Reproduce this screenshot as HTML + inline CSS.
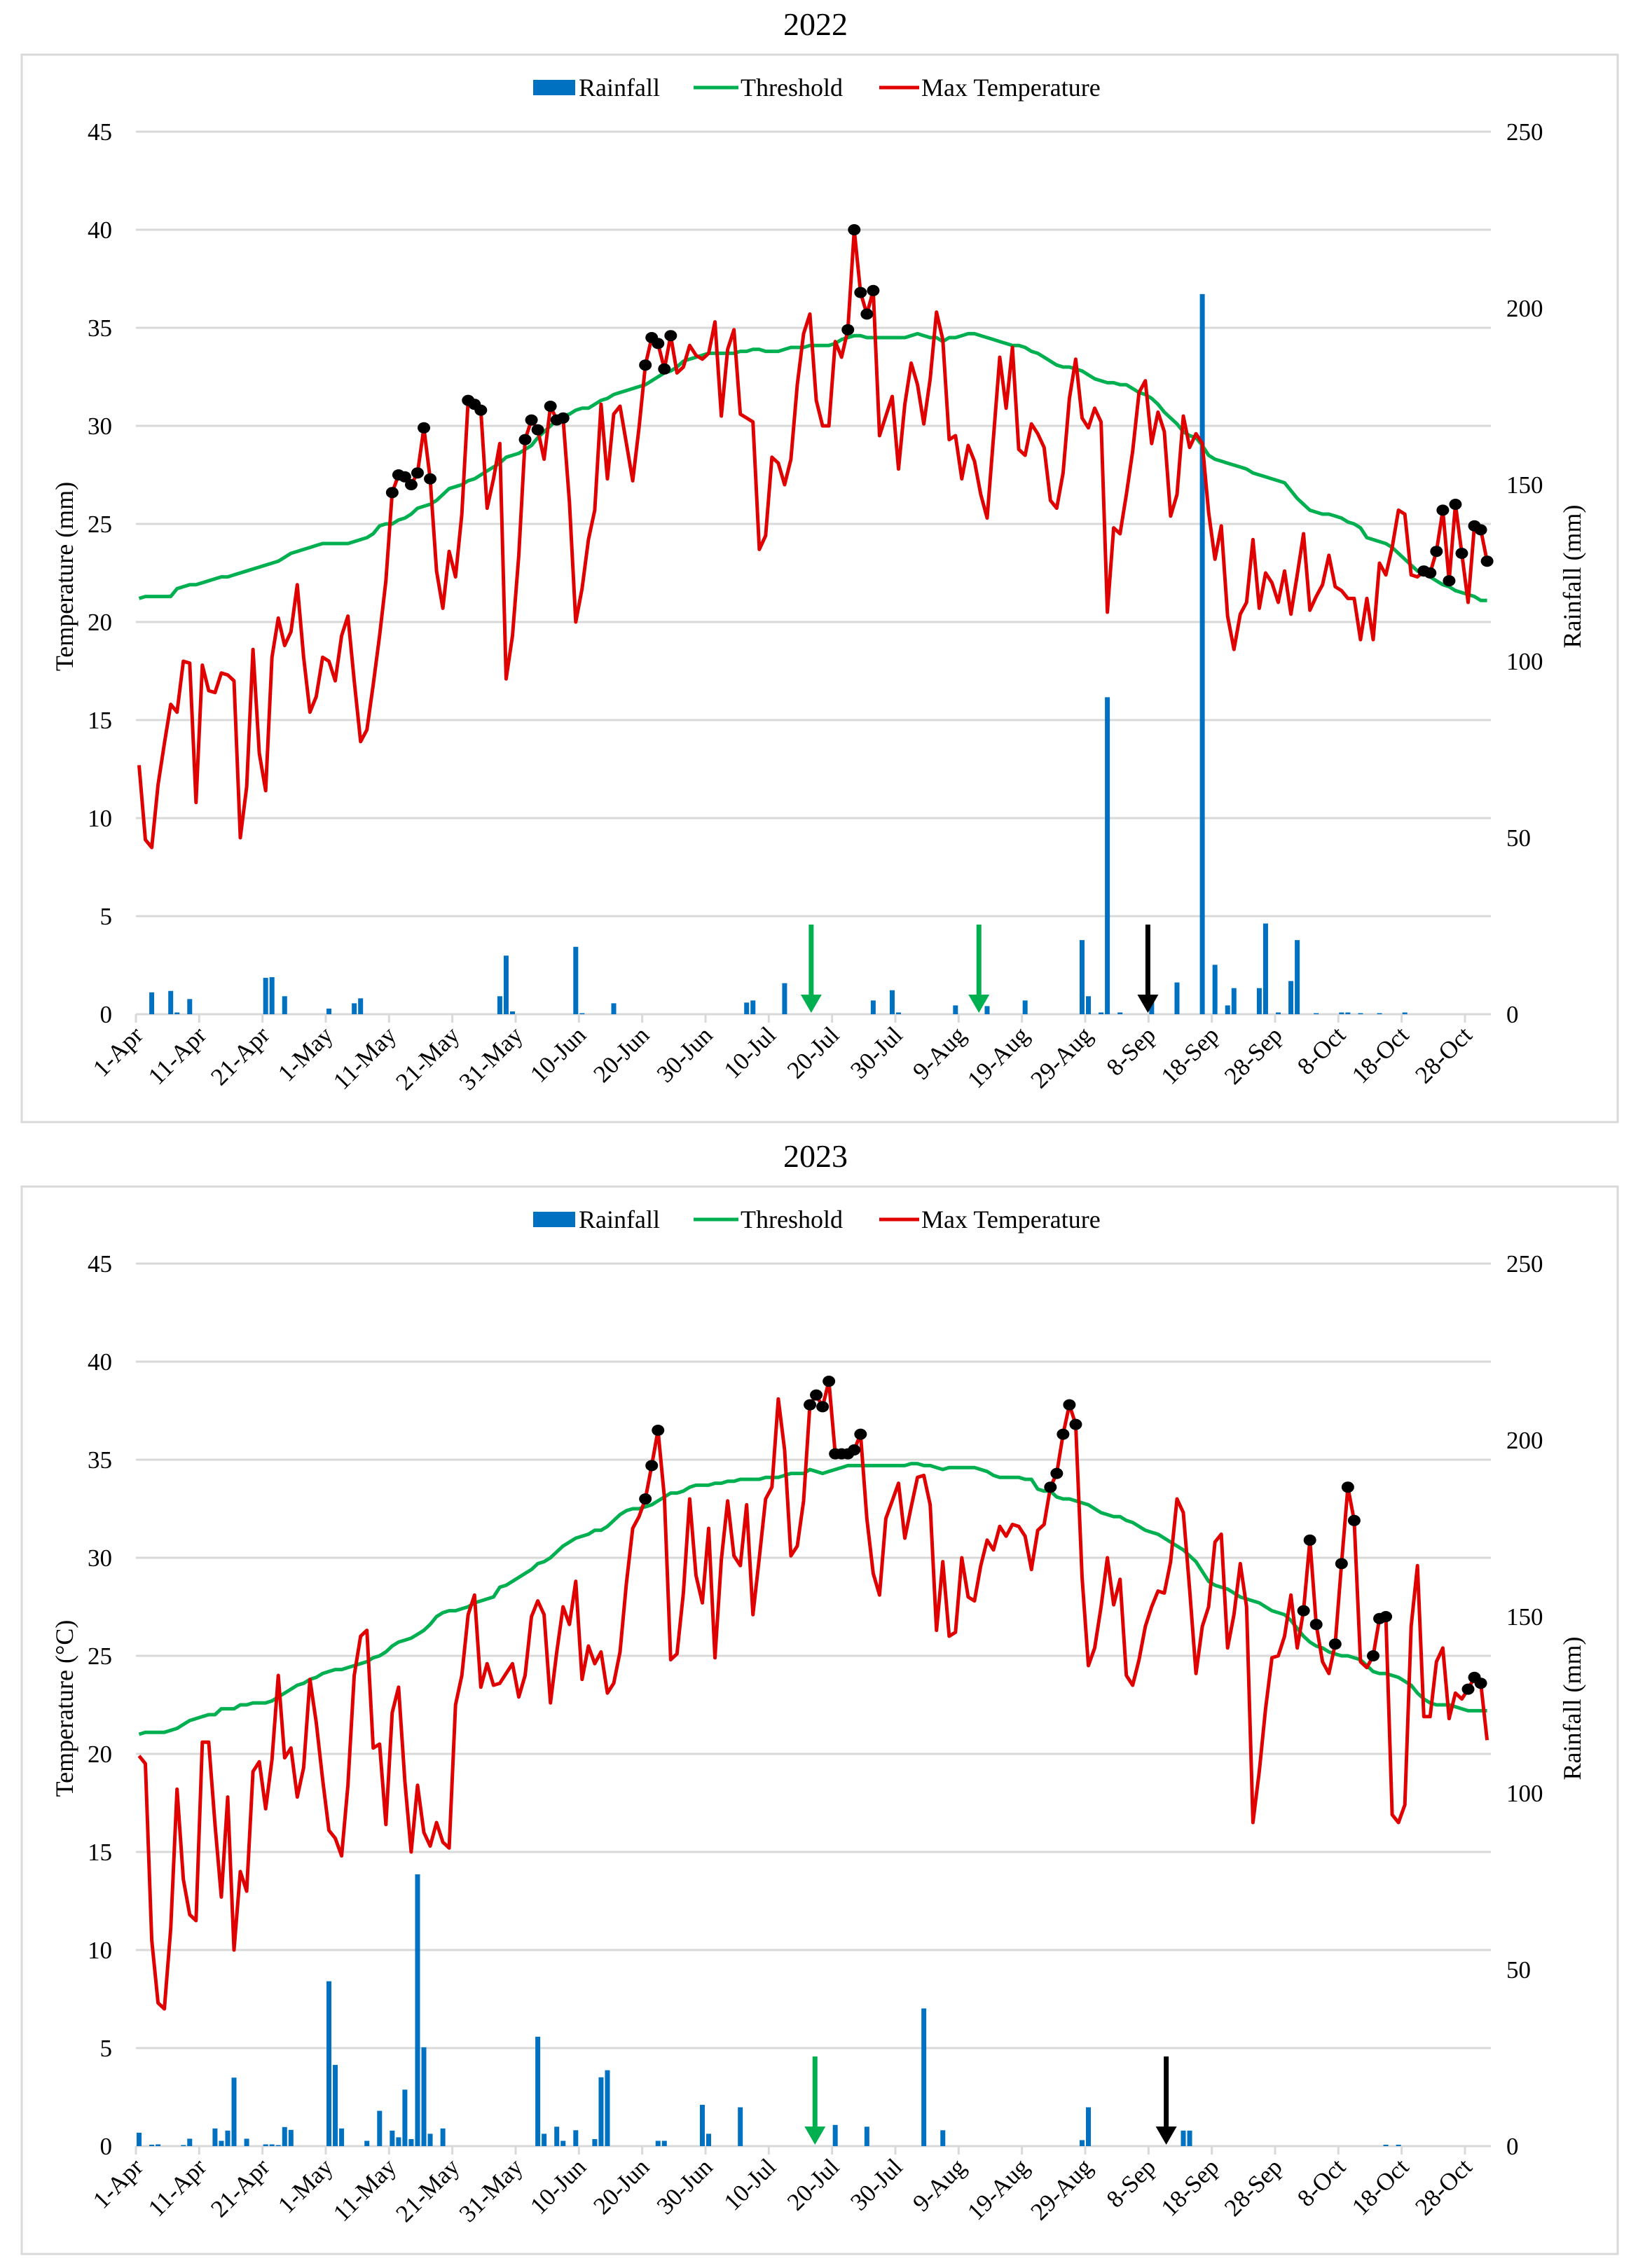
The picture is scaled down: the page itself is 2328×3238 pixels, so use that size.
<!DOCTYPE html>
<html><head><meta charset="utf-8"><title>Rainfall, threshold and max temperature 2022–2023</title>
<style>
html,body{margin:0;padding:0;background:#fff;}
svg{display:block;font-family:"Liberation Serif","Times New Roman",serif;}
</style></head>
<body>
<svg id="fig" xmlns="http://www.w3.org/2000/svg" width="2328" height="3238" viewBox="0 0 2328 3238">
<rect x="0" y="0" width="2328" height="3238" fill="#fff"/>
<!-- Chart 2022 static -->
<g id="c2022">
<rect x="31" y="78" width="2278" height="1524" fill="none" stroke="#d9d9d9" stroke-width="3"/>
<text x="1164" y="50" font-size="46" text-anchor="middle">2022</text>
<g font-size="36">
<rect x="761" y="114" width="60" height="22" fill="#0070c0"/>
<text x="826" y="137">Rainfall</text>
<line x1="990" y1="125" x2="1054" y2="125" stroke="#00b050" stroke-width="5"/>
<text x="1057" y="137">Threshold</text>
<line x1="1255" y1="125" x2="1312" y2="125" stroke="#e00000" stroke-width="5"/>
<text x="1315" y="137">Max Temperature</text>
</g>
<text font-size="36" text-anchor="middle" transform="translate(104,823) rotate(-90)">Temperature (mm)</text>
<text font-size="36" text-anchor="middle" transform="translate(2256,823) rotate(-90)">Rainfall (mm)</text>
</g>
<!-- Chart 2023 static -->
<g id="c2023">
<rect x="31" y="1694" width="2278" height="1524" fill="none" stroke="#d9d9d9" stroke-width="3"/>
<text x="1164" y="1666" font-size="46" text-anchor="middle">2023</text>
<g font-size="36">
<rect x="761" y="1730" width="60" height="22" fill="#0070c0"/>
<text x="826" y="1753">Rainfall</text>
<line x1="990" y1="1741" x2="1054" y2="1741" stroke="#00b050" stroke-width="5"/>
<text x="1057" y="1753">Threshold</text>
<line x1="1255" y1="1741" x2="1312" y2="1741" stroke="#e00000" stroke-width="5"/>
<text x="1315" y="1753">Max Temperature</text>
</g>
<text font-size="36" text-anchor="middle" transform="translate(104,2439) rotate(-90)">Temperature (°C)</text>
<text font-size="36" text-anchor="middle" transform="translate(2256,2439) rotate(-90)">Rainfall (mm)</text>
</g>
</svg>
<script>
const xTickLabels = ["1-Apr","11-Apr","21-Apr","1-May","11-May","21-May","31-May","10-Jun","20-Jun","30-Jun","10-Jul","20-Jul","30-Jul","9-Aug","19-Aug","29-Aug","8-Sep","18-Sep","28-Sep","8-Oct","18-Oct","28-Oct"];
const leftTicks = [0,5,10,15,20,25,30,35,40,45];
const rightTicks = [0,50,100,150,200,250];

const temp2022 = [12.7,8.9,8.5,11.7,13.8,15.8,15.4,18.0,17.9,10.8,
17.8,16.5,16.4,17.4,17.3,17.0,9.0,11.6,18.6,13.3,
11.4,18.2,20.2,18.8,19.5,21.9,18.2,15.4,16.2,18.2,
18.0,17.0,19.3,20.3,17.0,13.9,14.5,16.8,19.3,22.1,
26.6,27.5,27.4,27.0,27.6,29.9,27.3,22.6,20.7,23.6,
22.3,25.5,31.3,31.1,30.8,25.8,27.3,29.1,17.1,19.3,
23.4,29.3,30.3,29.8,28.3,31.0,30.3,30.4,26.1,20.0,
21.7,24.2,25.7,31.1,27.3,30.6,31.0,29.1,27.2,29.9,
33.1,34.5,34.2,32.9,34.6,32.7,33.0,34.1,33.6,33.4,
33.7,35.3,30.5,33.9,34.9,30.6,30.4,30.2,23.7,24.4,
28.4,28.1,27.0,28.3,32.1,34.7,35.7,31.3,30.0,30.0,
34.3,33.5,34.9,40.0,36.8,35.7,36.9,29.5,30.5,31.5,
27.8,31.1,33.2,32.1,30.1,32.4,35.8,34.4,29.3,29.5,
27.3,29.0,28.2,26.5,25.3,29.4,33.5,30.9,34.0,28.8,
28.5,30.1,29.6,28.9,26.2,25.8,27.6,31.4,33.4,30.4,
29.9,30.9,30.2,20.5,24.8,24.5,26.5,28.7,31.7,32.3,
29.1,30.7,29.7,25.4,26.5,30.5,28.9,29.6,29.1,25.6,
23.2,24.9,20.3,18.6,20.4,21.0,24.2,20.7,22.5,22.0,
21.0,22.6,20.4,22.4,24.5,20.6,21.3,21.9,23.4,21.8,
21.6,21.2,21.2,19.1,21.2,19.1,23.0,22.4,23.8,25.7,
25.5,22.4,22.3,22.6,22.5,23.6,25.7,22.1,26.0,23.5,
21.0,24.9,24.7,23.1];
const threshold2022 = [21.2,21.3,21.3,21.3,21.3,21.3,21.7,21.8,21.9,21.9,
22.0,22.1,22.2,22.3,22.3,22.4,22.5,22.6,22.7,22.8,
22.9,23.0,23.1,23.3,23.5,23.6,23.7,23.8,23.9,24.0,
24.0,24.0,24.0,24.0,24.1,24.2,24.3,24.5,24.9,25.0,
25.0,25.2,25.3,25.5,25.8,25.9,26.0,26.2,26.5,26.8,
26.9,27.0,27.2,27.3,27.5,27.7,27.9,28.1,28.4,28.5,
28.6,28.8,29.0,29.4,29.7,30.0,30.3,30.5,30.6,30.8,
30.9,30.9,31.1,31.3,31.4,31.6,31.7,31.8,31.9,32.0,
32.1,32.3,32.5,32.7,32.8,33.0,33.3,33.4,33.5,33.6,
33.7,33.7,33.7,33.7,33.7,33.8,33.8,33.9,33.9,33.8,
33.8,33.8,33.9,34.0,34.0,34.0,34.1,34.1,34.1,34.1,
34.2,34.4,34.5,34.6,34.6,34.5,34.5,34.5,34.5,34.5,
34.5,34.5,34.6,34.7,34.6,34.5,34.5,34.3,34.5,34.5,
34.6,34.7,34.7,34.6,34.5,34.4,34.3,34.2,34.1,34.1,
34.0,33.8,33.7,33.5,33.3,33.1,33.0,33.0,32.9,32.8,
32.6,32.4,32.3,32.2,32.2,32.1,32.1,31.9,31.7,31.6,
31.4,31.1,30.7,30.4,30.1,29.7,29.5,29.4,29.0,28.5,
28.3,28.2,28.1,28.0,27.9,27.8,27.6,27.5,27.4,27.3,
27.2,27.1,26.7,26.3,26.0,25.7,25.6,25.5,25.5,25.4,
25.3,25.1,25.0,24.8,24.3,24.2,24.1,24.0,23.8,23.5,
23.2,22.9,22.6,22.5,22.3,22.1,21.9,21.8,21.6,21.5,
21.4,21.3,21.1,21.1];
const rainDays2022 = [2,5,6,8,20,21,23,30,34,35,57,58,59,69,70,75,96,97,102,116,119,120,129,134,140,149,150,152,153,155,160,164,168,170,172,173,177,178,180,182,183,186,190,191,193,196,200];
const rainMm2022 = [6.2,6.6,0.5,4.3,10.3,10.5,5.1,1.6,3.1,4.5,5.1,16.6,0.8,19.1,0.3,3.1,3.3,3.9,8.8,3.9,6.8,0.5,2.5,2.3,3.9,21,5.1,0.5,89.8,0.5,4.9,9,204,14,2.5,7.4,7.4,25.7,0.5,9.4,21,0.3,0.5,0.5,0.3,0.3,0.5];
const hotDays2022 = [40,41,42,43,44,45,46,52,53,54,61,62,63,65,66,67,80,81,82,83,84,112,113,114,115,116,203,204,205,206,207,208,209,211,212,213];
const greenArrows2022 = [106.7,133.2];
const blackArrows2022 = [159.9];

const temp2023 = [19.9,19.5,10.5,7.3,7.0,11.1,18.2,13.6,11.8,11.5,
20.6,20.6,16.4,12.7,17.8,10.0,14.0,13.0,19.1,19.6,
17.2,19.7,24.0,19.8,20.3,17.8,19.3,23.8,21.6,18.7,
16.1,15.7,14.8,18.4,24.0,26.0,26.3,20.3,20.5,16.4,
22.1,23.4,18.6,15.0,18.4,16.0,15.3,16.5,15.5,15.2,
22.5,24.0,27.1,28.1,23.4,24.6,23.5,23.6,24.1,24.6,
22.9,24.0,27.0,27.8,27.1,22.6,25.2,27.5,26.6,28.8,
23.8,25.5,24.6,25.2,23.1,23.6,25.2,28.7,31.5,32.1,
33.0,34.7,36.5,33.1,24.8,25.1,28.2,33.0,29.1,27.7,
31.5,24.9,29.9,32.9,30.1,29.6,32.7,27.1,30.0,33.0,
33.6,38.1,35.5,30.1,30.6,32.9,37.8,38.3,37.7,39.0,
35.3,35.3,35.3,35.5,36.3,32.0,29.2,28.1,32.0,32.9,
33.8,31.0,32.6,34.1,34.2,32.7,26.3,29.8,26.0,26.2,
30.0,28.0,27.8,29.6,30.9,30.4,31.6,31.1,31.7,31.6,
31.1,29.4,31.4,31.7,33.6,34.3,36.3,37.8,36.8,29.0,
24.5,25.4,27.5,30.0,27.6,28.9,24.0,23.5,24.8,26.5,
27.5,28.3,28.2,29.8,33.0,32.3,28.4,24.1,26.5,27.5,
30.8,31.2,25.4,27.1,29.7,27.5,16.5,19.1,22.3,24.9,
25.0,26.0,28.1,25.4,27.3,30.9,26.6,24.7,24.1,25.6,
29.7,33.6,31.9,24.7,24.4,25.0,26.9,27.0,16.9,16.5,
17.4,26.5,29.6,21.9,21.9,24.7,25.4,21.8,23.1,22.8,
23.3,23.9,23.6,20.7];
const threshold2023 = [21.0,21.1,21.1,21.1,21.1,21.2,21.3,21.5,21.7,21.8,
21.9,22.0,22.0,22.3,22.3,22.3,22.5,22.5,22.6,22.6,
22.6,22.7,22.9,23.1,23.3,23.5,23.6,23.8,23.9,24.1,
24.2,24.3,24.3,24.4,24.5,24.6,24.7,24.9,25.0,25.2,
25.5,25.7,25.8,25.9,26.1,26.3,26.6,27.0,27.2,27.3,
27.3,27.4,27.5,27.7,27.8,27.9,28.0,28.5,28.6,28.8,
29.0,29.2,29.4,29.7,29.8,30.0,30.3,30.6,30.8,31.0,
31.1,31.2,31.4,31.4,31.6,31.9,32.2,32.4,32.5,32.5,
32.6,32.7,32.9,33.1,33.3,33.3,33.4,33.6,33.7,33.7,
33.7,33.8,33.8,33.9,33.9,34.0,34.0,34.0,34.0,34.1,
34.1,34.1,34.2,34.3,34.3,34.3,34.5,34.4,34.3,34.4,
34.5,34.6,34.7,34.7,34.7,34.7,34.7,34.7,34.7,34.7,
34.7,34.7,34.8,34.8,34.7,34.7,34.6,34.5,34.6,34.6,
34.6,34.6,34.6,34.5,34.4,34.2,34.1,34.1,34.1,34.1,
34.0,34.0,33.5,33.4,33.4,33.1,33.0,33.0,32.9,32.8,
32.7,32.5,32.3,32.2,32.1,32.1,31.9,31.8,31.6,31.4,
31.3,31.2,31.0,30.8,30.6,30.4,30.1,29.8,29.3,28.8,
28.6,28.5,28.4,28.2,28.0,27.9,27.8,27.7,27.5,27.3,
27.2,27.1,26.8,26.4,26.0,25.7,25.5,25.4,25.2,25.1,
25.0,25.0,24.9,24.8,24.5,24.2,24.1,24.1,24.0,23.9,
23.7,23.5,23.1,22.8,22.6,22.5,22.5,22.5,22.4,22.3,
22.2,22.2,22.2,22.2];
const rainDays2023 = [0,2,3,7,8,12,13,14,15,17,20,21,22,23,24,30,31,32,36,38,40,41,42,43,44,45,46,48,63,64,66,67,69,72,73,74,82,83,89,90,95,110,115,124,127,149,150,165,166,197,199];
const rainMm2023 = [3.8,0.4,0.5,0.3,2.1,5,1.5,4.4,19.4,2.1,0.5,0.5,0.3,5.4,4.6,46.7,23,5,1.5,10,4.4,2.5,16,2,77,28,3.5,5,31,3.5,5.5,1.5,4.5,2,19.5,21.5,1.5,1.5,11.7,3.5,11,6,5.5,39,4.5,1.7,11,4.4,4.4,0.4,0.4];
const hotDays2023 = [80,81,82,106,107,108,109,110,111,112,113,114,144,145,146,147,148,184,185,186,189,190,191,192,195,196,197,210,211,212];
const greenArrows2023 = [107.3];
const blackArrows2023 = [162.8];

const NS = "http://www.w3.org/2000/svg";
const svg = document.getElementById("fig");
function mk(parent, tag, attrs) {
  const el = document.createElementNS(NS, tag);
  for (const k in attrs) el.setAttribute(k, attrs[k]);
  parent.appendChild(el);
  return el;
}

function drawChart(groupId, off, temp, thr, rDays, rMm, hot, gArr, bArr) {
  const g = document.getElementById(groupId);
  const X0 = 194, DAYW = 9.0333, XR = 2128;
  const Y0 = 1448 + off, PX_PER_C = 28;
  const MM_PER_C = 250 / 45;
  const xDay = d => X0 + (d + 0.5) * DAYW;
  const xTick = k => X0 + k * DAYW;
  const yT = t => Y0 - t * PX_PER_C;
  const yR = mm => Y0 - (mm / MM_PER_C) * PX_PER_C;

  // gridlines + left ticks
  leftTicks.forEach(t => {
    const ln = mk(g, "line", {x1: X0, x2: XR, y1: yT(t), y2: yT(t), stroke: "#d9d9d9", "stroke-width": 3});
    
    
    const tx = mk(g, "text", {x: 160, y: yT(t) + 12, "font-size": 35, "text-anchor": "end"});
    tx.textContent = String(t);
    
    
  });
  rightTicks.forEach(v => {
    const tx = mk(g, "text", {x: 2150, y: yR(v) + 12, "font-size": 35});
    tx.textContent = String(v);
    
    
  });
  // x ticks
  xTickLabels.forEach((lab, i) => {
    const x = xTick(i * 10);
    const tk = mk(g, "line", {x1: x, x2: x, y1: Y0, y2: Y0 + 12, stroke: "#d9d9d9", "stroke-width": 3});
    
    
    const tx = mk(g, "text", {"font-size": 35, "text-anchor": "end", transform: "translate(" + (x + 12) + "," + (Y0 + 32) + ") rotate(-45)"});
    tx.textContent = lab;
    
    
  });
  // rainfall bars
  rDays.forEach((d, i) => {
    const top = yR(rMm[i]);
    const b = mk(g, "rect", {x: xDay(d) - 3.5, y: top, width: 7, height: Math.max(Y0 - top, 1.5), fill: "#0070c0"});
    
    
  });
  // threshold line
  const tp = thr.map((v, i) => xDay(i).toFixed(1) + "," + yT(v).toFixed(1)).join(" ");
  const tl = mk(g, "polyline", {points: tp, fill: "none", stroke: "#00b050", "stroke-width": 5, "stroke-linejoin": "round"});
  
  
  // max temperature line
  const mp = temp.map((v, i) => xDay(i).toFixed(1) + "," + yT(v).toFixed(1)).join(" ");
  const ml = mk(g, "polyline", {points: mp, fill: "none", stroke: "#e00000", "stroke-width": 5, "stroke-linejoin": "round"});
  
  
  // hot-day markers
  hot.forEach(d => {
    const c = mk(g, "ellipse", {cx: xDay(d), cy: yT(temp[d]), rx: 9, ry: 8, fill: "#000"});
    
    
  });
  // arrows
  const arrow = (d, color, name) => {
    const x = X0 + d * DAYW;
    const a = mk(g, "g", {});
    
    
    mk(a, "line", {x1: x, x2: x, y1: Y0 - 128, y2: Y0 - 24, stroke: color, "stroke-width": 7});
    mk(a, "polygon", {points: (x - 15) + "," + (Y0 - 28) + " " + (x + 15) + "," + (Y0 - 28) + " " + x + "," + (Y0 - 2), fill: color});
  };
  gArr.forEach(d => arrow(d, "#00b050", "green-arrow"));
  bArr.forEach(d => arrow(d, "#000000", "black-arrow"));
}

drawChart("c2022", 0, temp2022, threshold2022, rainDays2022, rainMm2022, hotDays2022, greenArrows2022, blackArrows2022);
drawChart("c2023", 1616, temp2023, threshold2023, rainDays2023, rainMm2023, hotDays2023, greenArrows2023, blackArrows2023);
</script>
</body></html>
